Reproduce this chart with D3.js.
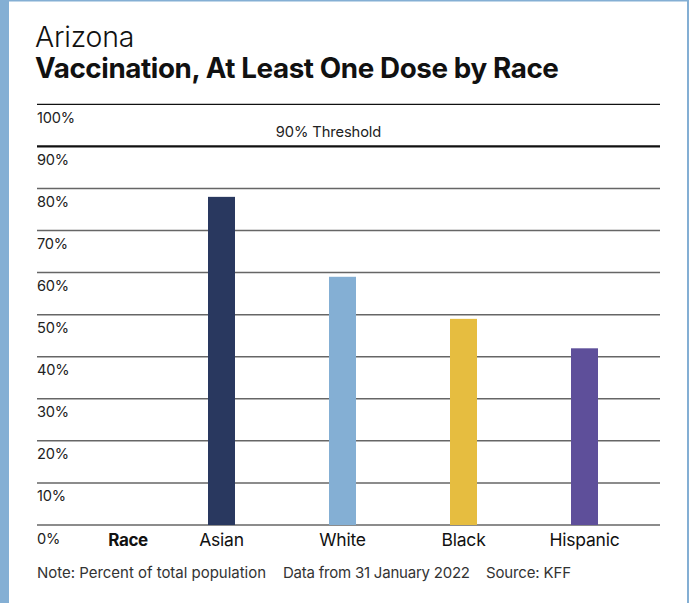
<!DOCTYPE html>
<html><head><meta charset="utf-8">
<script src="https://cdn.jsdelivr.net/npm/d3@7"></script>
<style>
html,body{margin:0;padding:0;background:#fff;}
svg{display:block;}
text{font-family:Inter, "Liberation Sans", Arial, sans-serif;}
</style></head>
<body>
<svg id="chart" width="689" height="603"></svg>
<script>
const stateName = "Arizona";
const chartTitle = "Vaccination, At Least One Dose by Race";
const categories = ["Asian", "White", "Black", "Hispanic"];
const values = [78, 59, 49, 42];
const colors = ["#29385f", "#84afd4", "#e6bd40", "#5e4f9a"];
const yTicks = [0, 10, 20, 30, 40, 50, 60, 70, 80, 90, 100];
const threshold = 90;
const thresholdLabel = "90% Threshold";
const axisTitle = "Race";
const notes = ["Note: Percent of total population", "Data from 31 January 2022", "Source: KFF"];

const svg = d3.select("#chart");
const W = 689, H = 603;

// spread letters so a text spans a given width
function fitSpacing(sel, target) {
  const n = sel.text().length;
  const w = sel.node().getComputedTextLength();
  sel.attr("letter-spacing", (target - w) / Math.max(1, n - 1));
}
// scale font size so a text spans a given width
function fitSize(sel, target) {
  const fs = +sel.attr("font-size");
  const w = sel.node().getComputedTextLength();
  sel.attr("font-size", fs * target / w);
}

// frame
svg.append("rect").attr("x",0).attr("y",0).attr("width",W).attr("height",H).attr("fill","#fff");
svg.append("rect").attr("x",0).attr("y",0).attr("width",9).attr("height",H).attr("fill","#84afd4");
svg.append("rect").attr("x",0).attr("y",0).attr("width",W).attr("height",1.5).attr("fill","#84afd4");
svg.append("rect").attr("x",687).attr("y",0).attr("width",2).attr("height",H).attr("fill","#84afd4");

// titles
const t1 = svg.append("text").attr("x",35).attr("y",47).attr("font-size",25).attr("font-weight",300)
  .attr("fill","#111").attr("letter-spacing",-0.2).text(stateName);
fitSize(t1, 99);
const t2 = svg.append("text").attr("x",35).attr("y",78).attr("font-size",25).attr("font-weight",700)
  .attr("fill","#111").attr("letter-spacing",-0.4).text(chartTitle);
fitSize(t2, 522);

const x0 = 37, x1 = 660;
const y = d3.scaleLinear().domain([0,100]).range([525,104.3]);
const x = d3.scalePoint().domain(categories).range([221.5, 584.5]);

// gridlines
const grid = svg.append("g");
yTicks.forEach(t => {
  let stroke = "#666", sw = 1.5;
  if (t === 100) { stroke = "#111"; sw = 1.2; }
  if (t === threshold) { stroke = "#111"; sw = 2.2; }
  grid.append("line").attr("x1",x0).attr("x2",x1).attr("y1",y(t)).attr("y2",y(t))
    .attr("stroke",stroke).attr("stroke-width",sw);
  grid.append("text").attr("x",x0).attr("y",y(t)+18.5).attr("font-size",14.6)
    .attr("fill","#222").attr("letter-spacing",-0.2).text(t + "%");
});

svg.append("text").attr("x",328.5).attr("y",y(threshold)-9.5).attr("text-anchor","middle")
  .attr("font-size",14.7).attr("fill","#222").attr("letter-spacing",-0.1).text(thresholdLabel);

// bars
const bw = 27;
svg.append("g").selectAll("rect").data(categories).join("rect")
  .attr("x", d => x(d) - bw/2)
  .attr("y", (d,i) => y(values[i]))
  .attr("width", bw)
  .attr("height", (d,i) => y(0) - y(values[i]))
  .attr("fill", (d,i) => colors[i]);

// category labels
svg.append("g").selectAll("text").data(categories).join("text")
  .attr("x", d => x(d)).attr("y", 546).attr("text-anchor","middle")
  .attr("font-size",17.5).attr("fill","#111").attr("letter-spacing",-0.2).text(d => d);
svg.append("text").attr("x",128).attr("y",546).attr("text-anchor","middle")
  .attr("font-size",17).attr("font-weight",700).attr("fill","#111").attr("letter-spacing",-0.4).text(axisTitle);

// notes
const noteX = [37, 283, 486];
const noteW = [229, 187, 85];
notes.forEach((n,i) => {
  const tt = svg.append("text").attr("x",noteX[i]).attr("y",578).attr("font-size",15)
    .attr("fill","#333").text(n);
  fitSpacing(tt, noteW[i]);
});
</script>
</body></html>
